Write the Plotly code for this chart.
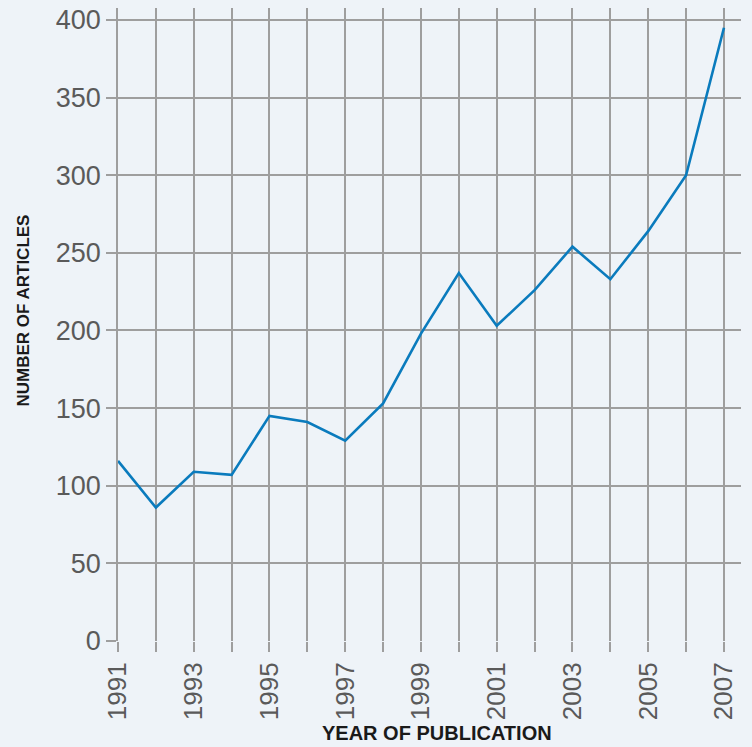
import plotly.graph_objects as go

years = list(range(1991, 2008))
articles = [116, 86, 109, 107, 145, 141, 129, 153, 198, 237, 203, 226, 254, 233, 264, 300, 395]
y_ticks = [0, 50, 100, 150, 200, 250, 300, 350, 400]

grid = "#9e9e9e"
bg = "#eef3f8"
font_fam = "Liberation Sans, Arial, sans-serif"

fig = go.Figure()
fig.add_trace(go.Scatter(
    x=years, y=articles, mode="lines",
    line=dict(color="#0a7bbd", width=2.6),
    showlegend=False, hoverinfo="x+y",
))

fig.update_layout(
    width=752, height=747,
    margin=dict(l=118, r=11, t=8, b=106),
    paper_bgcolor=bg,
    plot_bgcolor=bg,
    font=dict(family=font_fam, color="#5a5a5a"),
)

fig.update_xaxes(
    range=[1991, 2007.45],
    tick0=1991, dtick=2,
    tickangle=-90,
    ticks="outside", ticklen=10, tickwidth=1.5, tickcolor=grid,
    showgrid=True, gridcolor=grid, gridwidth=1.5,
    minor=dict(dtick=1, tick0=1991, ticks="outside", ticklen=10, tickwidth=1.5,
               tickcolor=grid, showgrid=True, gridcolor=grid, gridwidth=1.5),
    tickfont=dict(size=26, color="#5a5a5a", family=font_fam),
    zeroline=False, showline=False, automargin=False,
    ticklabeloverflow="allow",
)

fig.update_yaxes(
    range=[0, 407.7],
    tickvals=y_ticks,
    ticks="outside", ticklen=10, tickwidth=1.5, tickcolor=grid,
    showgrid=True, gridcolor=grid, gridwidth=1.5,
    tickfont=dict(size=27, color="#5a5a5a", family=font_fam),
    zeroline=False,
    showline=True, linecolor=grid, linewidth=1.5, automargin=False,
    ticklabeloverflow="allow",
)

fig.add_annotation(
    text="<b>YEAR OF PUBLICATION</b>", xref="paper", yref="paper",
    x=0.512, y=0, xanchor="center", yanchor="middle", yshift=-92,
    showarrow=False, font=dict(size=20, color="#1a1a1a", family=font_fam),
)
fig.add_annotation(
    text="<b>NUMBER OF ARTICLES</b>", xref="paper", yref="paper",
    x=0, y=0.522, xanchor="center", yanchor="middle", xshift=-94, textangle=-90,
    showarrow=False, font=dict(size=17, color="#1a1a1a", family=font_fam),
)

fig.write_html(
    "out.html",
    config={"displayModeBar": False},
    post_script="document.body.style.margin='0';document.body.style.background='%s';" % bg,
)
